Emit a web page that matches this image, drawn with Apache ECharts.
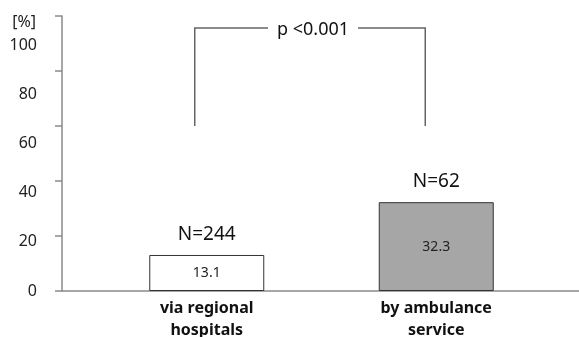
<!DOCTYPE html>
<html>
<head>
<meta charset="utf-8">
<script src="https://cdn.jsdelivr.net/npm/echarts@6/dist/echarts.min.js"></script>
<style>
  html, body { margin: 0; padding: 0; background: #fff; }
  #main { width: 579px; height: 337px; }
</style>
</head>
<body>
<div id="main"></div>
<script>
var categories = ['via regional\nhospitals', 'by ambulance\nservice']
var values = [13.1, 32.3]
var sampleSizes = [244, 62]
var barColors = ['#ffffff', '#a6a6a6']
var yTicks = [0, 20, 40, 60, 80, 100]
var pText = 'p <0.001'
var bracketLow = 60, bracketHigh = 95.6

var font = '"Noto Sans", "DejaVu Sans", sans-serif'
var axisColor = '#8a8a8a'

var chart = echarts.init(document.getElementById('main'))

var option = {
  animation: false,
  backgroundColor: '#fff',
  grid: [
    { left: 92, right: 28, top: 16, bottom: 46, outerBoundsMode: 'none' },
    { left: 62, right: 0, top: 16, bottom: 46, outerBoundsMode: 'none' }   // only for the long x line + labels
  ],
  xAxis: [
    {
      type: 'category', gridIndex: 0, data: categories,
      axisLine: { show: false },
      axisTick: { show: false },
      axisLabel: { fontFamily: font, fontSize: 16, fontWeight: 'bold', color: '#111', margin: 6, lineHeight: 22 }
    },
    {
      type: 'value', gridIndex: 1, min: 0, max: 1,
      axisLine: { show: true, lineStyle: { color: axisColor, width: 1.5 } },
      axisTick: { show: false }, axisLabel: { show: false }, splitLine: { show: false }
    }
  ],
  yAxis: [
    {
      type: 'value', gridIndex: 0, min: 0, max: 100, interval: 20, offset: 30,
      axisLine: { show: true, lineStyle: { color: axisColor, width: 1.5 } },
      axisTick: { show: true, length: 7, lineStyle: { color: axisColor, width: 1.5 } },
      axisLabel: { show: false }, splitLine: { show: false }
    },
    {
      // labels sit a little off the ticks, as in the original figure
      type: 'value', gridIndex: 1, min: 0, max: 112, interval: 20,
      axisLine: { show: false }, axisTick: { show: false }, splitLine: { show: false },
      axisLabel: {
        fontFamily: font, fontSize: 16, color: '#222', margin: 25,
        formatter: function (v) { return yTicks.indexOf(v) >= 0 ? String(v) : '' }
      },
      name: '[%]', nameLocation: 'end', nameGap: -6,
      nameTextStyle: { fontFamily: font, fontSize: 16, color: '#222', align: 'right', verticalAlign: 'middle', padding: [0, 26, 0, 0] }
    }
  ],
  series: [
    {
      type: 'bar', xAxisIndex: 0, yAxisIndex: 0, barWidth: 115,
      data: values.map(function (v, i) { return { value: v, itemStyle: { color: barColors[i] } } }),
      itemStyle: { borderColor: '#333', borderWidth: 1 },
      label: { show: true, position: 'inside', fontFamily: font, fontSize: 14, color: '#222' }
    },
    {
      type: 'bar', xAxisIndex: 0, yAxisIndex: 0, barWidth: 115, barGap: '-100%', silent: true,
      data: values,
      itemStyle: { color: 'rgba(0,0,0,0)' },
      label: {
        show: true, position: 'top', distance: 11, fontFamily: font, fontSize: 19, color: '#111',
        formatter: function (p) { return 'N=' + sampleSizes[p.dataIndex] }
      }
    }
  ]
}
chart.setOption(option)

// significance bracket
var a = chart.convertToPixel({ xAxisIndex: 0, yAxisIndex: 0 }, [0, bracketLow])
var b = chart.convertToPixel({ xAxisIndex: 0, yAxisIndex: 0 }, [1, bracketHigh])
var xl = a[0] - 12, xr = b[0] - 11, yLow = a[1], yHigh = b[1]
var mid = (xl + xr) / 2 + 3
var lineStyle = { stroke: '#666', lineWidth: 1.5, fill: null }
chart.setOption({
  graphic: [
    { type: 'polyline', shape: { points: [[xl, yLow], [xl, yHigh], [mid - 45, yHigh]] }, style: lineStyle },
    { type: 'polyline', shape: { points: [[mid + 45, yHigh], [xr, yHigh], [xr, yLow]] }, style: lineStyle },
    { type: 'text', x: mid, y: yHigh + 2, style: { text: pText, font: '18px ' + font, fill: '#111', align: 'center', verticalAlign: 'middle' } }
  ]
})
</script>
</body>
</html>
